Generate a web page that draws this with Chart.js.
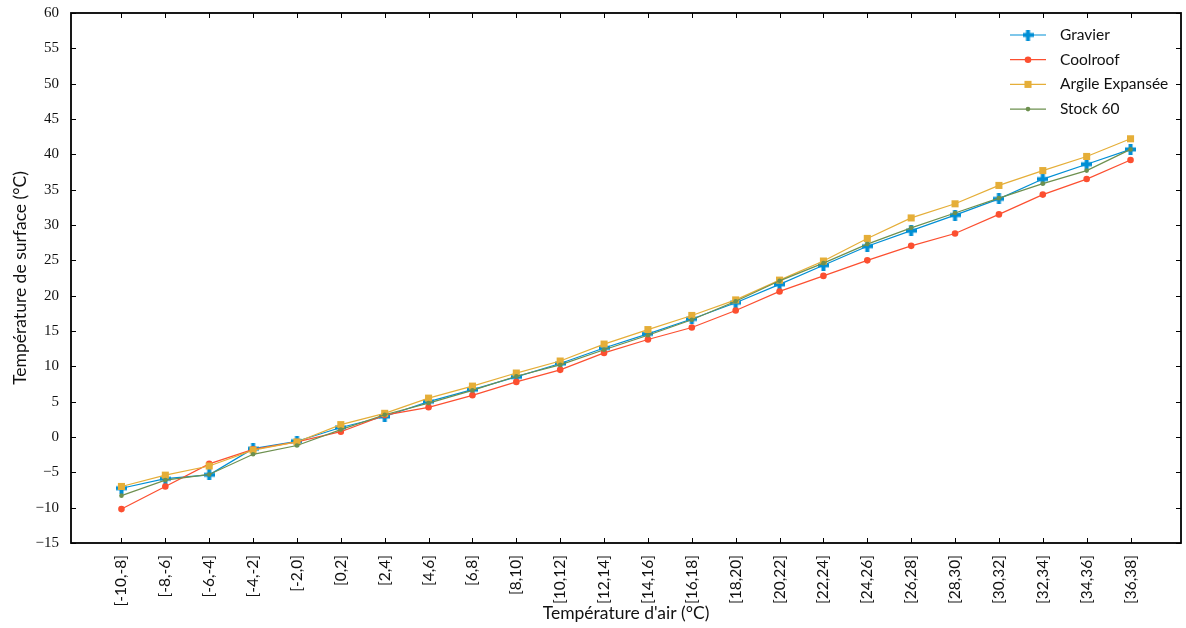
<!DOCTYPE html>
<html>
<head>
<meta charset="utf-8">
<script src="https://cdn.jsdelivr.net/npm/chart.js@4.4.1/dist/chart.umd.min.js"></script>
<style>
  html, body { margin: 0; background: #fff; }
</style>
</head>
<body>
<canvas id="chart" width="1186" height="628"></canvas>
<script>
// ─── DATA ──────────────────────────────────
const categories = ['[-10,-8]', '[-8,-6]', '[-6,-4]', '[-4,-2]', '[-2,0]', '[0,2]', '[2,4]', '[4,6]',
  '[6,8]', '[8,10]', '[10,12]', '[12,14]', '[14,16]', '[16,18]', '[18,20]', '[20,22]', '[22,24]',
  '[24,26]', '[26,28]', '[28,30]', '[30,32]', '[32,34]', '[34,36]', '[36,38]'];

const gravier  = [-7.25, -5.9, -5.35, -1.65, -0.6, 1.35, 2.9, 5.0, 6.7, 8.5, 10.4, 12.6, 14.6, 16.7,
  19.0, 21.6, 24.3, 27.0, 29.2, 31.4, 33.7, 36.5, 38.6, 40.7];
const coolroof = [-10.2, -7.0, -3.8, -1.75, -0.7, 0.75, 3.1, 4.2, 5.9, 7.8, 9.5, 11.9, 13.8, 15.5,
  17.9, 20.6, 22.8, 25.0, 27.05, 28.8, 31.5, 34.3, 36.5, 39.2];
const argile   = [-7.0, -5.4, -4.1, -1.85, -0.7, 1.75, 3.35, 5.5, 7.2, 9.05, 10.75, 13.15, 15.2, 17.2,
  19.4, 22.2, 24.9, 28.1, 31.0, 33.0, 35.6, 37.7, 39.7, 42.2];
const stock60  = [-8.3, -6.1, -5.3, -2.45, -1.2, 1.05, 3.15, 4.8, 6.6, 8.6, 10.2, 12.35, 14.4, 16.6,
  19.2, 22.1, 24.6, 27.3, 29.6, 31.7, 33.8, 35.85, 37.7, 40.7];

const yTicks = { min: -15, max: 60, step: 5 };

const COLORS = {
  blue:   '#008fd5',
  red:    '#fc4f30',
  yellow: '#e5ae38',
  green:  '#6d904f',
};

const SANS  = 'Lato';
const SERIF = 'Liberation Serif';

// filled plus marker ('P')
function plusMarker(color) {
  const cv = document.createElement('canvas');
  cv.width = 11; cv.height = 11;
  const g = cv.getContext('2d');
  g.fillStyle = color;
  g.fillRect(3.5, 0, 4, 11);
  g.fillRect(0, 3.5, 11, 4);
  return cv;
}
const plusImg = plusMarker(COLORS.blue);

const toPoints = arr => arr.map((v, i) => ({ x: i, y: v }));

const series = [
  { label: 'Gravier',         data: gravier,  color: COLORS.blue,   style: plusImg,  radius: 5,   order: 3 },
  { label: 'Coolroof',        data: coolroof, color: COLORS.red,    style: 'circle', radius: 3.3, order: 2 },
  { label: 'Argile Expansée', data: argile,   color: COLORS.yellow, style: 'rect',   radius: 5,   order: 1 },
  { label: 'Stock 60',        data: stock60,  color: COLORS.green,  style: 'circle', radius: 2.3, order: 0 },
];

// ─── PLUGINS ──────────────────────────────────
function drawMarker(ctx, s, x, y) {
  ctx.save();
  ctx.fillStyle = s.color;
  if (s.style === plusImg) {
    ctx.drawImage(plusImg, x - plusImg.width / 2, y - plusImg.height / 2);
  } else if (s.style === 'rect') {
    const h = s.radius * Math.SQRT1_2;
    ctx.fillRect(x - h, y - h, 2 * h, 2 * h);
  } else {
    ctx.beginPath();
    ctx.arc(x, y, s.radius, 0, Math.PI * 2);
    ctx.fill();
  }
  ctx.restore();
}

const framePlugin = {
  id: 'frame',
  afterDraw(chart) {
    const { ctx, chartArea: a, scales } = chart;
    ctx.save();
    ctx.strokeStyle = '#000';
    ctx.lineWidth = 1;
    const len = 5;
    ctx.beginPath();
    scales.y.ticks.forEach(t => {
      const py = Math.round(scales.y.getPixelForValue(t.value)) + 0.5;
      ctx.moveTo(a.left, py); ctx.lineTo(a.left + len, py);
      ctx.moveTo(a.right, py); ctx.lineTo(a.right - len, py);
    });
    scales.x.ticks.forEach(t => {
      const px = Math.round(scales.x.getPixelForValue(t.value)) + 0.5;
      ctx.moveTo(px, a.bottom); ctx.lineTo(px, a.bottom - len);
      ctx.moveTo(px, a.top); ctx.lineTo(px, a.top + len);
    });
    ctx.stroke();
    ctx.lineWidth = 1.8;
    ctx.strokeRect(a.left, a.top, a.right - a.left, a.bottom - a.top);
    ctx.restore();
  }
};

const legendPlugin = {
  id: 'lineLegend',
  afterDatasetsDraw(chart) {
    const { ctx, chartArea: a } = chart;
    const x0 = a.right - 171, x1 = x0 + 36, tx = x0 + 50;
    ctx.save();
    ctx.font = `15.5px ${SANS}`;
    ctx.textBaseline = 'middle';
    series.forEach((s, i) => {
      const y = a.top + 22 + i * 24.7;
      ctx.strokeStyle = s.color;
      ctx.lineWidth = 1.2;
      ctx.beginPath(); ctx.moveTo(x0, y); ctx.lineTo(x1, y); ctx.stroke();
      drawMarker(ctx, s, (x0 + x1) / 2, y);
      ctx.fillStyle = '#111';
      ctx.fillText(s.label, tx, y);
    });
    ctx.restore();
  }
};

// ─── CHART ──────────────────────────────────
new Chart(document.getElementById('chart').getContext('2d'), {
  type: 'line',
  data: {
    datasets: series.map(s => ({
      label: s.label,
      data: toPoints(s.data),
      borderColor: s.color,
      backgroundColor: s.color,
      borderWidth: 1.2,
      pointStyle: s.style,
      pointRadius: s.radius,
      pointBorderWidth: 0,
      tension: 0,
      order: s.order,
    }))
  },
  options: {
    responsive: false,
    animation: false,
    layout: { padding: { top: 13, right: 4, left: 0, bottom: 0 } },
    plugins: { legend: { display: false }, tooltip: { enabled: false } },
    scales: {
      x: {
        type: 'linear',
        min: -1.15,
        max: 24.15,
        afterBuildTicks: s => { s.ticks = categories.map((_, i) => ({ value: i })); },
        afterFit: s => { s.height = 85; },
        grid: { display: false },
        border: { display: false },
        ticks: {
          autoSkip: false,
          minRotation: 90,
          maxRotation: 90,
          padding: 4,
          color: '#111',
          font: { family: SANS, size: 15.5 },
          callback: v => categories[Math.round(v)],
        },
        title: {
          display: true,
          text: "Température d'air (°C)",
          color: '#111',
          font: { family: SANS, size: 17.5 },
          padding: { top: 4, bottom: 4 },
        },
      },
      y: {
        min: yTicks.min,
        max: yTicks.max,
        afterFit: s => { s.width = 71; },
        grid: { display: false },
        border: { display: false },
        ticks: {
          stepSize: yTicks.step,
          padding: 4,
          color: '#111',
          font: { family: SERIF, size: 15 },
          callback: v => (v < 0 ? '\u2212' + Math.abs(v) : String(v)),
        },
        title: {
          display: true,
          text: 'Température de surface (°C)',
          color: '#111',
          font: { family: SANS, size: 17.5 },
          padding: { top: 10, bottom: 4 },
        },
      },
    },
  },
  plugins: [framePlugin, legendPlugin],
});
</script>
</body>
</html>
